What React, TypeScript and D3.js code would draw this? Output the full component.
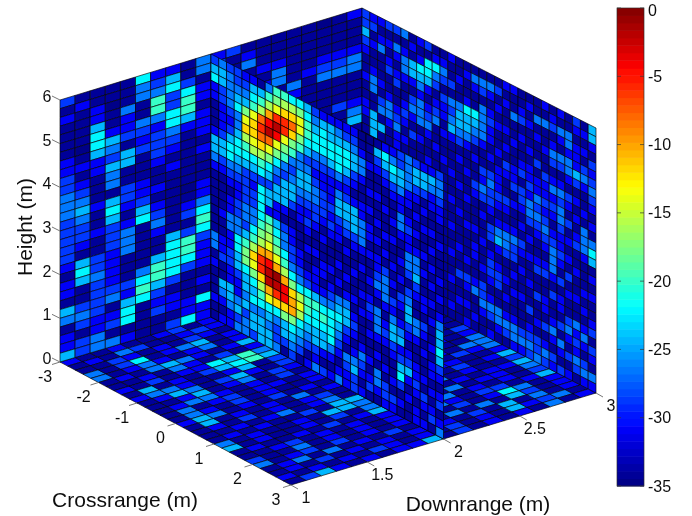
import React from "react";
import * as d3 from "d3";

// Cell levels are single characters (0..9,a..h), each standing for one dB value.
const LEVEL_DB: Record<string, number> = { "0": -35, "1": -34, "2": -31, "3": -28.5, "4": -26.5, "5": -24.5, "6": -22, "7": -20, "8": -18, "9": -16, a: -14, b: -12, c: -10, d: -8, e: -6, f: -4, g: -2, h: -1 };

const HEIGHT_TICKS = [0, 1, 2, 3, 4, 5, 6];
const CROSS_TICKS = [-3, -2, -1, 0, 1, 2, 3];
const DOWN_TICKS = [1, 1.5, 2, 2.5, 3];
const BAR_TICKS = [0, -5, -10, -15, -20, -25, -30, -35];

// wall at crossrange = -3: one string per downrange column, top row first
const LEFT_WALL = [
  "3121111223344433" + "33321221541225",
  "1211110121234543" + "32156511343133",
  "1122566522111211" + "21133433332244",
  "1101125435441565" + "33322223412314",
  "1114223155113321" + "24441113256612",
  "6441143231112235" + "61111146761111",
  "2347742333211212" + "34211577532311",
  "2563366432121111" + "11156666312213",
  "1136775211111101" + "23137763111226",
  "4412212221211122" + "46763222121622",
  "23", "3112", "12411", "111212", "11124411", "111111421", "1111121111", "011123411111", "1111234111311", "21112441112451",
];

// slice at downrange = 2: one string per crossrange column, top row first
const MID_SLICE = [
  "356221112554" + "211111114412111211",
  "455332223553" + "211112112231154212",
  "344443235664" + "321224422332255422",
  "334564456654" + "322334466553224534",
  "23458ab97653" + "333443578865545344",
  "2567abba9653" + "23344679ba86564553",
  "1579dedb9763" + "6666789ceeb9764555",
  "479cfgda8653" + "552789acfggca65455",
  "78aegfa86435" + "5225678achgeb64334",
  "79beea874355" + "521344679cffb85531",
  "69bdb8743455" + "3112233468bcc86543",
  "68aa87445543" + "22111223469a965431",
  "567765345543" + "232121123677654312",
  "345664323443" + "321121222576655324",
  "256664322333" + "212112212467655213",
  "255665322232" + "321112123466664212",
  "245666424553" + "221121214565432124",
  "235665323554" + "312112124553214322",
  "234553212555" + "321121121232124533",
  "012442112244" + "421211212111243212",
  "011211212122" + "121121232121121231",
  "153211211212" + "122342144421214421",
  "265321121121" + "213444212321121332",
  "246532112121" + "121213245532112132",
  "335542244211" + "212132124523563121",
  "444422123224" + "431345532123521211",
  "355321212124" + "453211442112232122",
  "255312121121" + "211221321211213212",
  "254221121212" + "121212112122121231",
  "344322112111" + "212124556532123124",
];

// wall at downrange = 3: one string per crossrange column, top row first
const RIGHT_WALL = [
  "335321121122111",
  "231211244115551",
  "212411121341511",
  "312123112442111",
  "314212311234221",
  "412442112321211",
  "121552134213111",
  "212654244412112",
  "316652123421121",
  "126431234112111",
  "124313221211211",
  "211314345211121" + "121121121121121",
  "112114554312112" + "112111211311211",
  "121126554211211" + "211211121321212",
  "142116543121132" + "111212211241121",
  "143144442113243" + "121121121334211",
  "142123221213433" + "213312332124312",
  "131212112122232" + "124521233114421",
  "212112121321132" + "124431121212431",
  "211411211223121" + "124331212112442",
  "112312112313321" + "213212112111342",
  "121211212232443" + "121211211312343",
  "114121131224343" + "211231131121334",
  "214112113223234" + "321231122131243",
  "123124312423212" + "344421311242132",
  "214214312434432" + "232131221314213",
  "114424421321312" + "121312113421312",
  "321222531212123" + "112112114232431",
  "121213421121444" + "211121212421342",
  "552132343212146" + "512121123132142",
];

// floor: one string per crossrange column, downrange = 1 first
const FLOOR = [
  "2112112312",
  "1214311232",
  "1132121321",
  "4136124512",
  "4124212412",
  "1214542125",
  "1121421312",
  "2131226574",
  "1512135675",
  "2442112513",
  "1254135213",
  "1125124132",
  "1244212131",
  "14123122121211211213",
  "14213121121121211212",
  "25412131211211212114",
  "15121214121121122144",
  "12131212312112121324",
  "11212412412112122112",
  "12121131551211213125",
  "41211215542112412113",
  "51211213142123121225",
  "12112131251211412214",
  "11231212122134121213",
  "31141212124142133125",
  "41231312121213126412",
  "12414121312141415312",
  "12131212121213151412",
  "21212132121312152341",
  "13521212251312121412",
];

const cellDb = (ch: string | undefined) => LEVEL_DB[ch ?? "1"];

// Projected corners of the box, indexed [downrange end][crossrange end][height end]
const CORNERS: [number, number][][][] = [
  [[[60, 362], [60, 100]], [[291, 485], [291, 219]]],
  [[[362, 272], [362, 8]], [[596, 393], [596, 128]]],
];
const downNorm = d3.scaleLinear().domain([1, 3]).range([0, 1]);
const crossNorm = d3.scaleLinear().domain([-3, 3]).range([0, 1]);
const heightNorm = d3.scaleLinear().domain([0, 6]).range([0, 1]);

function project(d: number, c: number, h: number): [number, number] {
  const u = downNorm(d), v = crossNorm(c), w = heightNorm(h);
  const mix = (axis: 0 | 1) => {
    const at = (a: number, b: number, e: number) => CORNERS[a][b][e][axis];
    const n0 = at(0, 0, 0) * (1 - u) + at(1, 0, 0) * u;
    const n1 = at(0, 1, 0) * (1 - u) + at(1, 1, 0) * u;
    const t0 = at(0, 0, 1) * (1 - u) + at(1, 0, 1) * u;
    const t1 = at(0, 1, 1) * (1 - u) + at(1, 1, 1) * u;
    return (n0 * (1 - v) + n1 * v) * (1 - w) + (t0 * (1 - v) + t1 * v) * w;
  };
  return [mix(0), mix(1)];
}

// 64-level jet colormap, the same one used by the colour bar
const jetRamp = d3.scaleLinear<string>()
  .domain([0, 1 / 8, 3 / 8, 5 / 8, 7 / 8, 1])
  .range(["#000080", "#0000ff", "#00ffff", "#ffff00", "#ff0000", "#800000"])
  .interpolate(d3.interpolateRgb as any);
const JET = d3.range(64).map((i) => jetRamp((i + 0.5) / 64));
const colour = d3.scaleQuantize<string>().domain([-35, 0]).range(JET);

const poly = d3.line<[number, number]>().curve(d3.curveLinearClosed);

const DOWN_STEP = 0.1, CROSS_STEP = 0.2, H_STEP = 0.2;
const FONT = "'Liberation Sans', Arial, sans-serif";

type Cell = { pts: [number, number][]; db: number };

function buildCells(): Cell[] {
  const out: Cell[] = [];
  FLOOR.forEach((col, j) => {
    d3.range(20).forEach((i) => {
      const d0 = 1 + i * DOWN_STEP, d1 = d0 + DOWN_STEP, c0 = -3 + j * CROSS_STEP, c1 = c0 + CROSS_STEP;
      out.push({ pts: [project(d0, c0, 0), project(d1, c0, 0), project(d1, c1, 0), project(d0, c1, 0)], db: cellDb(col[i]) });
    });
  });
  LEFT_WALL.forEach((col, i) => {
    d3.range(30).forEach((r) => {
      const d0 = 1 + i * DOWN_STEP, d1 = d0 + DOWN_STEP, h1 = 6 - r * H_STEP, h0 = h1 - H_STEP;
      out.push({ pts: [project(d0, -3, h0), project(d1, -3, h0), project(d1, -3, h1), project(d0, -3, h1)], db: cellDb(col[r]) });
    });
  });
  const crossWall = (wall: string[], d: number) => wall.forEach((col, j) => {
    d3.range(30).forEach((r) => {
      const c0 = -3 + j * CROSS_STEP, c1 = c0 + CROSS_STEP, h1 = 6 - r * H_STEP, h0 = h1 - H_STEP;
      out.push({ pts: [project(d, c0, h0), project(d, c1, h0), project(d, c1, h1), project(d, c0, h1)], db: cellDb(col[r]) });
    });
  });
  crossWall(RIGHT_WALL, 3);
  crossWall(MID_SLICE, 2);
  return out;
}

const BAR_X = 617, BAR_W = 27;
const barY = d3.scaleLinear().domain([0, -35]).range([8, 486]);

export default function App() {
  const cells = buildCells();
  const tickStyle = { stroke: "#777", strokeWidth: 1 };
  const txt = { fontFamily: FONT, fontSize: 16, fill: "#111", textAnchor: "middle" as const, dominantBaseline: "central" as const };
  return (
    <svg width={692} height={516} style={{ position: "absolute", left: 0, top: 0, display: "block", background: "#fff" }}>
      <defs>
        <filter id="soft" x="0" y="0" width="692" height="516" filterUnits="userSpaceOnUse">
          <feGaussianBlur stdDeviation="0.45" />
        </filter>
      </defs>
      <g filter="url(#soft)">
        {cells.map((c, i) => (
          <path key={i} d={poly(c.pts) ?? ""} fill={colour(c.db)} stroke="#000" strokeWidth={0.65} />
        ))}
        {HEIGHT_TICKS.map((h) => {
          const [x, y] = project(1, -3, h);
          return (
            <g key={h}>
              <line x1={x} y1={y} x2={x - 8} y2={y - 4} {...tickStyle} />
              <text x={x - 13} y={y - 3.5} {...txt}>{h}</text>
            </g>
          );
        })}
        {CROSS_TICKS.map((c) => {
          const [x, y] = project(1, c, 0);
          return (
            <g key={c}>
              <line x1={x} y1={y} x2={x - 8} y2={y + 2.5} {...tickStyle} />
              <text x={x - 15} y={y + 14} {...txt}>{c}</text>
            </g>
          );
        })}
        {DOWN_TICKS.map((d) => {
          const [x, y] = project(d, 3, 0);
          return (
            <g key={d}>
              <line x1={x} y1={y} x2={x + 7} y2={y + 4} {...tickStyle} />
              <text x={x + 15} y={y + 12} {...txt}>{d}</text>
            </g>
          );
        })}
        <text x={125} y={499} {...txt} fontSize={21}>Crossrange (m)</text>
        <text x={478} y={503} {...txt} fontSize={21}>Downrange (m)</text>
        <text x={0} y={0} {...txt} fontSize={21} transform="translate(24,227) rotate(-90)">Height (m)</text>

        {JET.map((col, i) => {
          const y0 = barY(-35 + (i + 1) * (35 / 64)), y1 = barY(-35 + i * (35 / 64));
          return <rect key={i} x={BAR_X} y={y0} width={BAR_W} height={y1 - y0 + 0.5} fill={col} />;
        })}
        <rect x={BAR_X} y={8} width={BAR_W} height={478} fill="none" stroke="#333" strokeWidth={0.7} />
        {BAR_TICKS.map((t) => (
          <g key={t}>
            <line x1={BAR_X} x2={BAR_X + 4} y1={barY(t)} y2={barY(t)} stroke="#333" strokeWidth={0.7} />
            <line x1={BAR_X + BAR_W - 4} x2={BAR_X + BAR_W} y1={barY(t)} y2={barY(t)} stroke="#333" strokeWidth={0.7} />
            <text x={648} y={t === 0 ? barY(t) + 2 : barY(t)} {...txt} textAnchor="start">{t}</text>
          </g>
        ))}
      </g>
    </svg>
  );
}
